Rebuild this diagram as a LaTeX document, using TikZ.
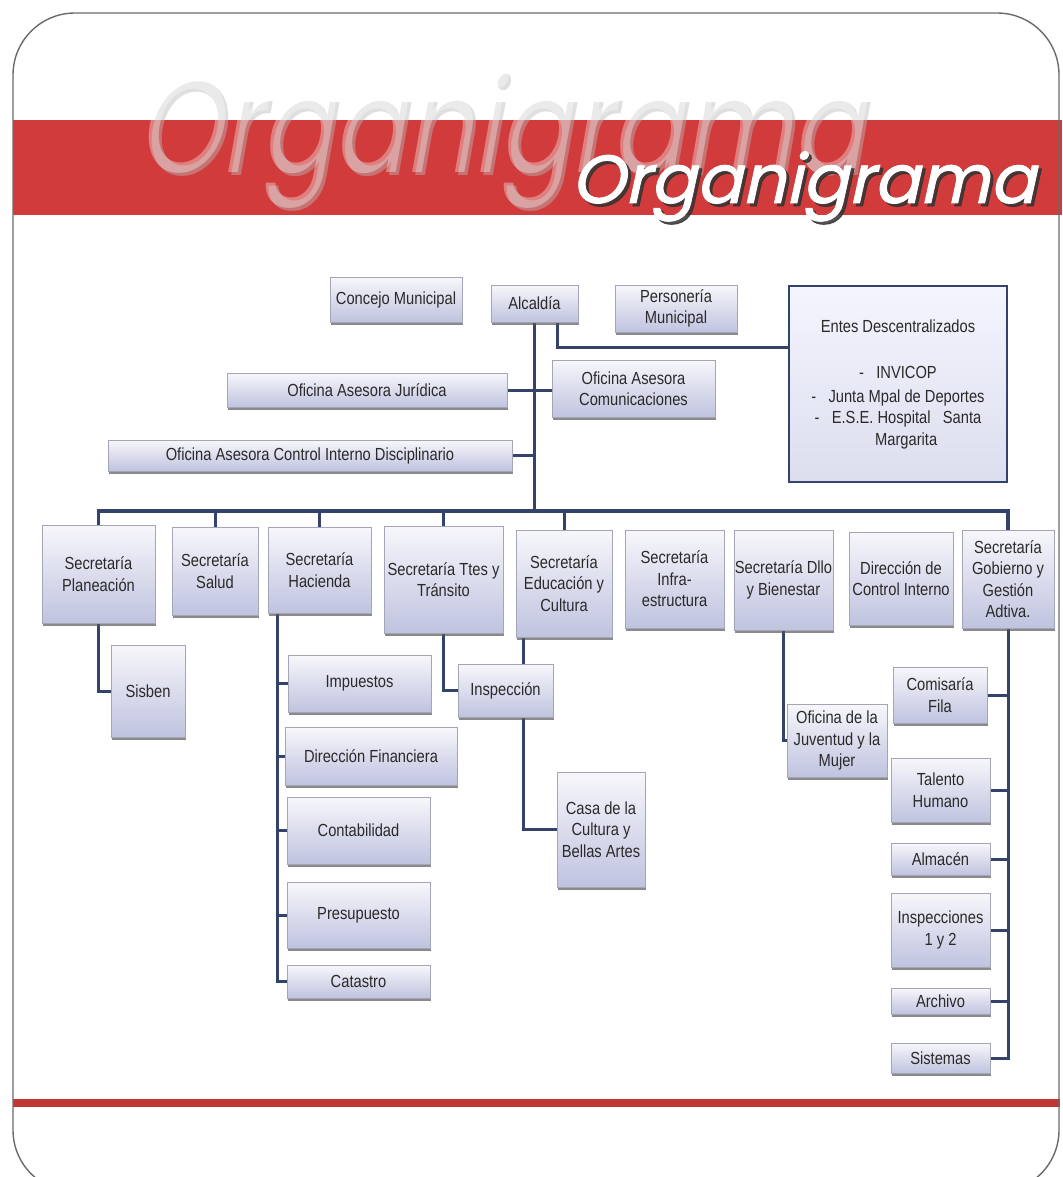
\documentclass[tikz,border=0pt]{standalone}
\usepackage{fontspec}
\setmainfont{Liberation Sans}
\newfontfamily\bxfam[FakeStretch=0.84]{Liberation Sans}
\newfontfamily\ttlfam[FakeSlant=0.22]{Poppins}
\newfontfamily\ttlbfam[FakeSlant=0.22,FakeBold=1.3]{Poppins}
\usetikzlibrary{shadows}
\definecolor{band}{HTML}{D13B3B}
\definecolor{wire}{HTML}{34436B}
\definecolor{boxtop}{HTML}{F7F7FB}
\definecolor{boxbot}{HTML}{BFC3DF}
\definecolor{boxedge}{HTML}{A4A6B8}
\definecolor{txt}{HTML}{2A2A2A}
\definecolor{framec}{HTML}{6A6A6A}
\pgfdeclarelayer{bg}\pgfdeclarelayer{wires}\pgfsetlayers{bg,wires,main}
\newcommand\bxfont{\bxfam\fontsize{17.5}{21.5}\selectfont}
\newcommand\bx[6]{\node[box, minimum width={(#4-#2)*1pt}, minimum height={(#5-#3)*1pt}] (#1) at ({(#2+#4)/2},{(#3+#5)/2}) {#6};}
\begin{document}
\begin{tikzpicture}[x=1pt,y=-1pt,
  box/.style={draw=boxedge, line width=0.6pt, top color=boxtop, bottom color=boxbot, inner sep=1pt, align=center, text=txt, font=\bxfont,
    drop shadow={shadow xshift=1pt, shadow yshift=-2.5pt, fill=black!65, opacity=0.7}},
  conn/.style={draw=wire, line width=3pt}]
\useasboundingbox (0,0) rectangle (1062,1177);

\begin{pgfonlayer}{bg}
\begin{scope}
\clip (0,0) rectangle (1062,1177);
\fill[white] (0,0) rectangle (1062,1177);
\fill[band] (13,120) rectangle (1062,215);
\node[anchor=base west, inner sep=0, xscale=0.8, font=\ttlfam\fontsize{133}{133}\selectfont, text=gray!55, opacity=0.45] (ghs) at (140,176) {Organigrama};
\node[anchor=base west, inner sep=0, xscale=0.8, font=\ttlfam\fontsize{133}{133}\selectfont, text=white, opacity=0.35] (gh) at (137,173) {Organigrama};
\node[anchor=base west, inner sep=0, font=\ttlbfam\fontsize{68}{68}\selectfont, text=black!80, opacity=0.85] (tts) at (574,206) {Organigrama};
\node[anchor=base west, inner sep=0, font=\ttlbfam\fontsize{68}{68}\selectfont, text=white] (tt) at (571,203) {Organigrama};
\fill[band!92!black] (13,1099) rectangle (1060,1107);
\draw[framec, line width=1.4pt, rounded corners=62pt] (13,13) rectangle (1059,1192);
\end{scope}
\end{pgfonlayer}

% top level
\bx{conc}{330}{277}{462}{322}{Concejo Municipal}
\bx{alc}{491}{285}{578}{322}{Alcaldía}
\bx{pers}{615}{285}{737}{332}{Personería\\Municipal}
\node[draw=wire, line width=2.5pt, top color=white!96!blue, bottom color=boxbot!55, align=center, text=txt, font=\bxfont, inner sep=0,
  minimum width=218pt, minimum height=196pt] (entes) at (898,384)
  {Entes Descentralizados\\[25pt]-\ \ \ INVICOP\\[2pt]-\ \ \ Junta Mpal de Deportes\\-\ \ \ E.S.E. Hospital\ \ \ Santa\\\ \ \ \ Margarita};
\bx{jur}{227}{373}{507}{407}{Oficina Asesora Jurídica}
\bx{com}{552}{360}{715}{417}{Oficina Asesora\\Comunicaciones}
\bx{oci}{108}{440}{512}{471}{Oficina Asesora Control Interno Disciplinario}

% secretarias
\bx{plan}{42}{525}{155}{623}{Secretaría\\Planeación}
\bx{sal}{172}{527}{258}{615}{Secretaría\\Salud}
\bx{hac}{268}{527}{371}{613}{Secretaría\\Hacienda}
\bx{tra}{384}{526}{503}{633}{Secretaría Ttes y\\Tránsito}
\bx{edu}{516}{530}{612}{637}{Secretaría\\Educación y\\Cultura}
\bx{inf}{625}{530}{724}{628}{Secretaría\\Infra-\\estructura}
\bx{dllo}{734}{530}{833}{630}{Secretaría Dllo\\y Bienestar}
\bx{dci}{849}{532}{953}{625}{Dirección de\\Control Interno}
\bx{gob}{962}{530}{1054}{628}{Secretaría\\Gobierno y\\Gestión\\Adtiva.}

% sub units
\bx{sis}{111}{645}{185}{737}{Sisben}
\bx{imp}{288}{655}{431}{712}{Impuestos}
\bx{df}{285}{727}{457}{785}{Dirección Financiera}
\bx{cont}{287}{797}{430}{864}{Contabilidad}
\bx{pres}{287}{882}{430}{948}{Presupuesto}
\bx{cat}{287}{965}{430}{998}{Catastro}
\bx{insp}{458}{664}{553}{717}{Inspección}
\bx{casa}{557}{772}{645}{887}{Casa de la\\Cultura y\\Bellas Artes}
\bx{juv}{787}{704}{887}{777}{Oficina de la\\Juventud y la\\Mujer}
\bx{comf}{893}{667}{987}{723}{Comisaría\\Fila}
\bx{tal}{891}{758}{990}{822}{Talento\\Humano}
\bx{alm}{891}{843}{990}{875}{Almacén}
\bx{ins}{891}{893}{990}{967}{Inspecciones\\1 y 2}
\bx{arc}{891}{988}{990}{1014}{Archivo}
\bx{sist}{891}{1043}{990}{1073}{Sistemas}

\begin{pgfonlayer}{wires}
\coordinate (busy) at (0,511);
\coordinate (eY) at (0,347);
\coordinate (hx) at ([xshift=10pt]hac.south west);
\coordinate (ex) at ([xshift=8pt]edu.south west);
\draw[conn] (alc.south) -- (alc.south |- busy);
\draw[conn, line width=3.5pt] (plan.north) |- (gob.north |- busy) -- (gob.north);
\foreach \n in {sal,hac,tra,edu} \draw[conn] (\n.north) -- (\n.north |- busy);
\draw[conn] ([xshift=23pt]alc.south) |- (entes.west |- eY);
\draw[conn] (jur.east) -- (com.west |- jur.east);
\draw[conn] (oci.east) -- (oci.east -| alc.south);
\draw[conn] (plan.south) |- (sis.west);
\draw[conn] (hx) |- (cat.west);
\foreach \n in {imp,df,cont,pres} \draw[conn] (\n.west) -- (\n.west -| hx);
\draw[conn] (tra.south) |- (insp.west);
\draw[conn] (ex) |- (casa.west);
\draw[conn] (dllo.south) |- (juv.west);
\draw[conn] (gob.south) |- (sist.east);
\foreach \n in {comf,tal,alm,ins,arc} \draw[conn] (\n.east) -- (\n.east -| gob.south);
\end{pgfonlayer}
\end{tikzpicture}
\end{document}
